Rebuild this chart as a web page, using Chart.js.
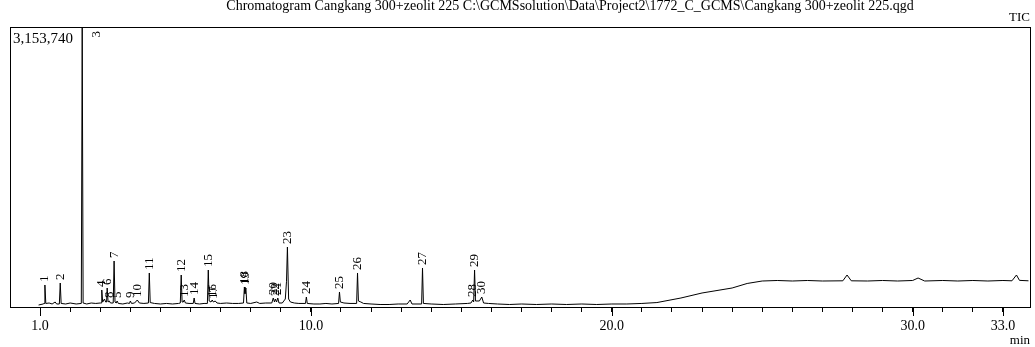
<!DOCTYPE html>
<html>
<head>
<meta charset="utf-8">
<script src="https://cdn.jsdelivr.net/npm/chart.js@4/dist/chart.umd.min.js"></script>
<style>
  html, body { margin: 0; padding: 0; background: #fff; }
</style>
</head>
<body>
<canvas id="tic" width="1035" height="347"></canvas>
<script>
const chartTitle = "Chromatogram Cangkang 300+zeolit 225 C:\\GCMSsolution\\Data\\Project2\\1772_C_GCMS\\Cangkang 300+zeolit 225.qgd";
const yTopLabel = "3,153,740";
const yTop = 3153740;

// retention time (min) and TIC intensity
const retTimes = [
  0.95, 1.10, 1.13, 1.16, 1.19, 1.30, 1.40, 1.50, 1.55, 1.64, 1.67, 1.70, 1.85, 2.00,
  2.20, 2.37, 2.40, 2.43, 2.55, 2.70, 2.85, 3.00, 3.03, 3.05, 3.08,
  3.14, 3.18, 3.21, 3.23, 3.26, 3.30, 3.34, 3.43, 3.46, 3.49, 3.53, 3.56, 3.60,
  3.75, 3.90, 3.97, 4.00, 4.04, 4.14, 4.23, 4.30, 4.45, 4.60, 4.63, 4.66, 4.80,
  5.00, 5.20, 5.40, 5.60, 5.66, 5.69, 5.72, 5.76, 5.79, 5.83, 5.95,
  6.09, 6.12, 6.15, 6.30, 6.45, 6.56, 6.59, 6.62, 6.68, 6.72, 6.76, 6.82, 6.88, 7.00,
  7.20, 7.40, 7.60, 7.76, 7.79, 7.81, 7.84, 7.87, 8.00, 8.20, 8.30,
  8.50, 8.70, 8.75, 8.79, 8.82, 8.86, 8.90, 8.94, 9.05, 9.15, 9.19, 9.22, 9.26, 9.32, 9.45, 9.60,
  9.82, 9.85, 9.88, 10.10, 10.30, 10.50, 10.70, 10.92, 10.95, 10.98, 11.10,
  11.30, 11.52, 11.55, 11.58, 11.66, 11.75, 12.00, 12.30, 12.60, 12.90, 13.20, 13.30, 13.36, 13.68, 13.71, 13.74,
  14.00, 14.40, 14.80, 15.20, 15.32, 15.38, 15.41, 15.44, 15.47, 15.60, 15.68, 15.74, 15.90,
  16.20, 16.60, 17.00, 17.50, 18.00, 18.50, 19.00, 19.50, 20.00, 20.50, 21.00, 21.50, 22.30,
  23.00, 24.00, 24.50, 25.00, 25.50, 26.00, 26.50, 27.00, 27.68, 27.82, 27.96,
  28.50, 29.00, 29.50, 30.00, 30.18, 30.40, 31.00, 31.50, 32.00, 32.50, 33.00, 33.30, 33.45, 33.55, 33.85
];
const ticCounts = [
  22500, 33800, 40000, 247800, 40000, 45000, 33800, 56300, 33800, 33800, 270300, 40000, 33800, 45000,
  33800, 40000, 3153740, 45000, 33800, 45000, 40000, 45000, 45000, 191500, 56300,
  90100, 56300, 56300, 214000, 56300, 67600, 45000, 45000, 518100, 56300, 45000, 67600, 40000,
  33800, 45000, 40000, 67600, 40000, 45000, 78800, 45000, 40000, 45000, 383000, 50000, 40000,
  33800, 40000, 33800, 40000, 45000, 360400, 56300, 56300, 78800, 45000, 40000,
  40000, 101400, 40000, 33800, 40000, 40000, 416700, 67600, 56300, 78800, 56300, 67600, 45000, 40000,
  45000, 40000, 40000, 45000, 225300, 150000, 214000, 45000, 40000, 56300, 40000,
  45000, 45000, 101400, 56300, 90100, 56300, 101400, 45000, 45000, 90100, 290000, 675800, 90100, 56300, 45000, 40000,
  40000, 112600, 40000, 33800, 33800, 40000, 33800, 40000, 169000, 56300, 45000,
  40000, 40000, 383000, 67600, 56300, 40000, 33800, 28000, 28000, 33800, 33800, 78800, 33800, 33800, 439300, 40000,
  33800, 28000, 33800, 40000, 45000, 78800, 56300, 416700, 67600, 67600, 112600, 45000, 40000,
  33800, 28000, 33800, 28000, 33800, 28000, 33800, 28000, 33800, 33800, 40000, 50000, 101400,
  157700, 214000, 265000, 292800, 298500, 292800, 298500, 292800, 295000, 360400, 295000,
  292800, 298500, 292800, 298500, 326600, 292800, 298500, 292800, 298500, 292800, 298500, 295000, 360400, 300000, 295000
];

// peak numbers and their retention times
const peakNames = ["1","2","3","4","5","6","7","8","9","10","11","12","13","14","15","16","17","18","19","20","21","22","23","24","25","26","27","28","29","30"];
const peakTimes = [1.16, 1.67, 2.40, 3.05, 3.56, 3.23, 3.46, 3.30, 4.00, 4.23, 4.63, 5.69, 5.79, 6.12, 6.59, 6.72, 6.76, 7.79, 7.84, 8.75, 8.90, 8.82, 9.22, 9.85, 10.95, 11.55, 13.71, 15.38, 15.44, 15.68];

// x axis: minor tick every minute, labels only on some
const tickMinutes = [1,2,3,4,5,6,7,8,9,10,11,12,13,14,15,16,17,18,19,20,21,22,23,24,25,26,27,28,29,30,31,32,33];
const labelledTicks = [1, 10, 20, 30, 33];

const serif = "'Liberation Serif', 'DejaVu Serif', serif";

function peakHeight(t) {
  let best = 0;
  retTimes.forEach((rt, i) => {
    if (Math.abs(rt - t) < 0.005 && ticCounts[i] > best) best = ticCounts[i];
  });
  return best;
}

const decorations = {
  id: 'decorations',
  afterDraw(chart) {
    const c = chart.ctx;
    const area = chart.chartArea;
    const xs = chart.scales.x;
    const ys = chart.scales.y;
    c.save();
    c.strokeStyle = '#000';
    c.lineWidth = 1;
    c.strokeRect(Math.round(area.left) + 0.5, Math.round(area.top) + 0.5,
      Math.round(area.right - area.left), Math.round(area.bottom - area.top));

    // longer marks under labelled ticks
    c.beginPath();
    labelledTicks.forEach(v => {
      const px = Math.round(xs.getPixelForValue(v)) + 0.5;
      c.moveTo(px, area.bottom);
      c.lineTo(px, area.bottom + 9);
    });
    c.stroke();

    c.fillStyle = '#000';
    c.font = '14px ' + serif;
    c.textAlign = 'center';
    c.textBaseline = 'alphabetic';
    c.fillText(chartTitle, 570, 10);

    c.font = '13px ' + serif;
    c.textAlign = 'right';
    c.textBaseline = 'middle';
    c.fillText('TIC', 1030, 18);
    c.fillText('min', 1030, 341);

    c.font = '15px ' + serif;
    c.textAlign = 'left';
    c.fillText(yTopLabel, area.left + 3, area.top + 12);

    // peak numbers, rotated
    c.font = '13px ' + serif;
    c.textAlign = 'left';
    c.textBaseline = 'middle';
    peakNames.forEach((name, i) => {
      const px = xs.getPixelForValue(peakTimes[i]);
      let py = ys.getPixelForValue(peakHeight(peakTimes[i])) - 3;
      let ox = 0;
      const w = c.measureText(name).width;
      if (py - w < area.top + 2) {
        ox = 14;
        py = area.top + 4 + w;
      }
      c.save();
      c.translate(px + ox, py);
      c.rotate(-Math.PI / 2);
      c.fillText(name, 0, 0);
      c.restore();
    });
    c.restore();
  }
};

new Chart(document.getElementById('tic'), {
  type: 'line',
  data: {
    datasets: [{
      data: retTimes.map((t, i) => ({ x: t, y: ticCounts[i] })),
      borderColor: '#000',
      borderWidth: 1,
      pointRadius: 0,
      tension: 0,
      fill: false
    }]
  },
  options: {
    responsive: false,
    animation: false,
    devicePixelRatio: 1,
    layout: { padding: { left: 10, right: 5, top: 27, bottom: 0 } },
    plugins: { legend: { display: false }, tooltip: { enabled: false } },
    scales: {
      x: {
        type: 'linear',
        min: 0,
        max: 33.9,
        afterBuildTicks: scale => { scale.ticks = tickMinutes.map(v => ({ value: v })); },
        afterFit: scale => { scale.height = 40; },
        ticks: {
          autoSkip: false,
          maxRotation: 0,
          padding: 6,
          color: '#000',
          font: { family: serif, size: 14 },
          callback: v => labelledTicks.includes(v) ? v.toFixed(1) : ''
        },
        grid: { drawOnChartArea: false, drawTicks: true, tickLength: 5, color: '#000' },
        border: { display: true, color: '#000' }
      },
      y: {
        display: false,
        min: 0,
        max: yTop
      }
    }
  },
  plugins: [decorations]
});
</script>
</body>
</html>
